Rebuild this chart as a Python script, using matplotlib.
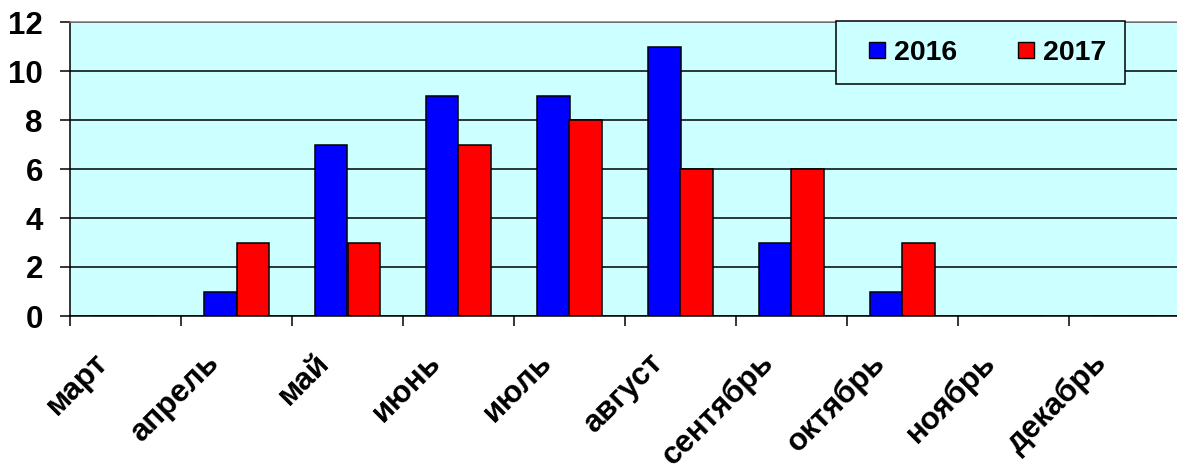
import matplotlib
matplotlib.use("Agg")
from matplotlib import pyplot as plt
from matplotlib.lines import Line2D
import matplotlib.transforms as mtransforms
import numpy as np

months = ['март', 'апрель', 'май', 'июнь', 'июль', 'август',
          'сентябрь', 'октябрь', 'ноябрь', 'декабрь']
values_2016 = [0, 1, 7, 9, 9, 11, 3, 1, 0, 0]
values_2017 = [0, 3, 3, 7, 8, 6, 6, 3, 0, 0]
yticks = [0, 2, 4, 6, 8, 10, 12]

plt.rcParams['font.family'] = ['Liberation Sans', 'DejaVu Sans']
plt.rcParams['font.weight'] = 'bold'
FS = 22.5      # axis labels
FS_LEG = 20.5  # legend

W, H = 1177, 469
fig = plt.figure(figsize=(W / 100, H / 100), dpi=100)
# plot area in pixels: x 70..1180, y 22..316
ax = fig.add_axes([70 / W, 1 - 316 / H, 1110 / W, 294 / H])
ax.set_facecolor('#CCFFFF')

x = np.arange(len(months))
bw = 0.29
ax.bar(x - bw / 2, values_2016, bw, color='#0000FF', edgecolor='black', linewidth=1.1)
ax.bar(x + bw / 2, values_2017, bw, color='#FF0000', edgecolor='black', linewidth=1.1)

ax.set_xlim(-0.5, len(months) - 0.5)
ax.set_ylim(0, 12)
ax.set_yticks(yticks)
ax.set_yticklabels([str(v) for v in yticks], fontsize=FS, fontweight='bold')

ax.set_axisbelow(True)
ax.yaxis.grid(True, color='black', linewidth=1.1)

# category boundaries carry the tick marks, centres carry the labels
ax.set_xticks(np.arange(-0.5, len(months) + 0.5, 1.0))
ax.set_xticklabels([])
ax.set_xticks(x, minor=True)
ax.set_xticklabels(months, minor=True, fontsize=FS, fontweight='bold',
                   rotation=45, ha='right', va='center', rotation_mode='anchor')
ax.tick_params(axis='x', which='minor', length=0, pad=30.5)
ax.tick_params(axis='both', which='major', direction='out', length=7, width=1.1,
               color='black')
ax.tick_params(axis='y', pad=12.5)

offset = mtransforms.ScaledTranslation(-22 / 100, 0, fig.dpi_scale_trans)
for lab in ax.get_xticklabels(minor=True):
    lab.set_transform(lab.get_transform() + offset)

for side in ['left', 'bottom']:
    ax.spines[side].set_color('black')
    ax.spines[side].set_linewidth(1.1)
ax.spines['top'].set_color('#808080')
ax.spines['top'].set_linewidth(1.1)
ax.spines['right'].set_visible(False)

handles = [
    Line2D([], [], linestyle='none', marker='s', markersize=12.2,
           markerfacecolor='#0000FF', markeredgecolor='black', markeredgewidth=1.0),
    Line2D([], [], linestyle='none', marker='s', markersize=12.2,
           markerfacecolor='#FF0000', markeredgecolor='black', markeredgewidth=1.0),
]
leg = fig.legend(handles, ['2016', '2017'], ncol=2, loc='upper left',
                 bbox_to_anchor=(836 / W, 1 - 21 / H), bbox_transform=fig.transFigure,
                 prop={'size': FS_LEG, 'weight': 'bold'}, fancybox=False, framealpha=1,
                 facecolor='#CCFFFF', edgecolor='black', borderpad=0.65,
                 borderaxespad=0, handlelength=1.6, handletextpad=-0.2,
                 columnspacing=1.6)
leg.get_frame().set_linewidth(1.1)

fig.savefig('out.png', dpi=100)
